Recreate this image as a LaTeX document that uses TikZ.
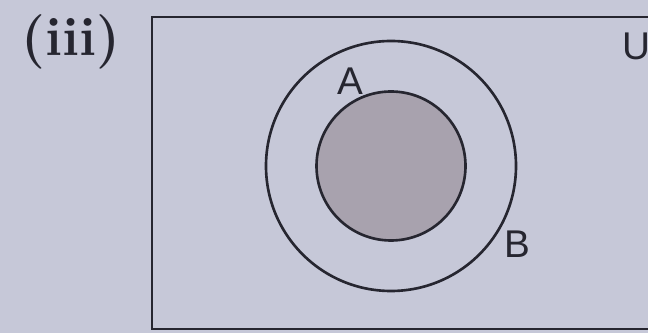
\documentclass[tikz,border=0pt]{standalone}
\usepackage{fontspec}
\setsansfont{Liberation Sans}
\definecolor{bg}{RGB}{198,200,216}
\definecolor{ink}{RGB}{38,38,48}
\definecolor{shade}{RGB}{168,162,174}
\begin{document}
\begin{tikzpicture}[x=0.02cm,y=-0.02cm,
  edge/.style={draw=ink,line width=1.5pt},
  lab/.style={text=ink,font=\sffamily\fontsize{22}{24}\selectfont,inner sep=0pt}]
\useasboundingbox (0,0) rectangle (648,333);
\fill[bg] (0,0) rectangle (648,333);
\begin{scope}
\clip (0,0) rectangle (648,333);
\draw[edge] (152,17) rectangle (680,329);
\end{scope}
\node[text=ink,font=\bfseries\fontsize{31}{33}\selectfont,inner sep=0pt] (tag) at (71,42) {(iii)};
\node[lab] (U) at (636,46) {U};
\node[edge,circle,minimum size=250*0.02cm,inner sep=0pt] (B) at (391,166) {};
\node[edge,circle,fill=shade,minimum size=149*0.02cm,inner sep=0pt] (A) at (391,166) {};
\node[lab] (Alab) at (350,81) {A};
\node[lab] (Blab) at (517,244) {B};
\end{tikzpicture}
\end{document}
